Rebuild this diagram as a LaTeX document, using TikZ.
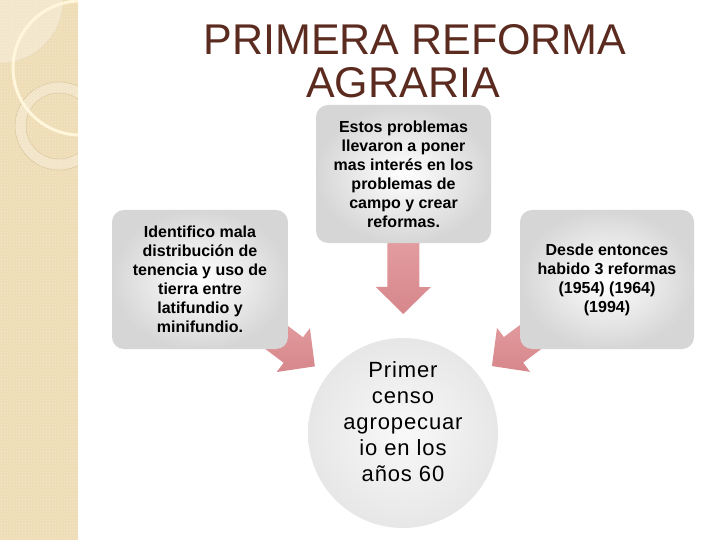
\documentclass[tikz,border=0pt]{standalone}
\usepackage{fontspec}
\setmainfont{Liberation Sans}
\newfontfamily\spacedfont[LetterSpace=4]{Liberation Sans}
\usetikzlibrary{calc,patterns}

\definecolor{titlebrown}{HTML}{5C2B20}
\definecolor{stripbeige}{HTML}{EEDCB5}
\definecolor{stripdot}{HTML}{F6EAD0}
\definecolor{ringtan}{HTML}{D6C298}
\definecolor{ringcream}{HTML}{FFF6DC}
\definecolor{arrowtop}{HTML}{EFB0B3}
\definecolor{arrowbot}{HTML}{D6878B}

\pgfdeclarelayer{back}
\pgfdeclarelayer{arrows}
\pgfsetlayers{back,arrows,main}

\tikzset{
  titletext/.style={anchor=base, text=titlebrown, font=\fontsize{43}{43}\selectfont},
  infobox/.style={rounded corners=12pt, inner sep=0pt, align=center,
    inner color=white, outer color=gray!32,
    font=\fontsize{16}{19}\selectfont\bfseries},
  bubble/.style={circle, minimum size=190pt, inner sep=0pt,
    inner color=gray!5, outer color=gray!19},
  bubbletext/.style={align=center, font=\spacedfont\fontsize{22}{26}\selectfont},
  blockarrow/.style={top color=arrowtop, bottom color=arrowbot},
}

\begin{document}
\begin{tikzpicture}[x=1pt, y=-1pt]
  \useasboundingbox (0,0) rectangle (720,540);

  % Left strip
  \begin{pgfonlayer}{back}
    \fill[white] (0,0) rectangle (720,540);
    \fill[stripbeige] (0,0) rectangle (78,540);
    \fill[pattern=crosshatch dots, pattern color=stripdot] (0,0) rectangle (78,540);
    \begin{scope}
      \clip (0,0) rectangle (78,540);
      \fill[white, opacity=0.3] (0,0) circle (63);
      \draw[ringtan!60, thin] (0,0) circle (63);
      \fill[white, opacity=0.25, even odd rule] (59,126) circle (44) (59,126) circle (33);
      \draw[ringtan] (59,126) circle (44) (59,126) circle (33);
      \draw[ringcream, line width=3pt] (80,68) circle (67);
    \end{scope}
  \end{pgfonlayer}

  \node[titletext] (title1) at (415,55) {PRIMERA REFORMA};
  \node[titletext] (title2) at (403,98) {AGRARIA};

  \node[infobox, minimum width=176pt, minimum height=139pt] (tenure) at (200,279.5)
    {Identifico mala\\distribución de\\tenencia y uso de\\tierra entre\\latifundio y\\minifundio.};
  \node[infobox, minimum width=175pt, minimum height=138pt] (problems) at (403.5,174)
    {Estos problemas\\llevaron a poner\\mas interés en los\\problemas de\\campo y crear\\reformas.};
  \node[infobox, minimum width=174pt, minimum height=139pt] (reforms) at (607,279.5)
    {Desde entonces\\habido 3 reformas\\(1954) (1964)\\(1994)};
  \node[bubble, label={[bubbletext, yshift=11pt]center:{Primer\\censo\\agropecuar\\io en los\\años 60}}]
    (census) at (403,433) {};

  % Block arrows towards the census
  \coordinate (tenuretip) at ($(tenure.center)!144pt!(census.center)$);
  \coordinate (tenurehead) at ($(tenuretip)!27pt!(tenure.center)$);
  \coordinate (problemstip) at ($(problems.center)!140pt!(census.center)$);
  \coordinate (problemshead) at ($(problemstip)!27pt!(problems.center)$);
  \coordinate (reformstip) at ($(reforms.center)!144pt!(census.center)$);
  \coordinate (reformshead) at ($(reformstip)!27pt!(reforms.center)$);

  \begin{pgfonlayer}{arrows}
    \shade[blockarrow] ($(tenure.center)!16pt!90:(tenuretip)$) -- ($(tenurehead)!16pt!90:(tenuretip)$)
      -- ($(tenurehead)!27.5pt!90:(tenuretip)$) -- (tenuretip) -- ($(tenurehead)!27.5pt!-90:(tenuretip)$)
      -- ($(tenurehead)!16pt!-90:(tenuretip)$) -- ($(tenure.center)!16pt!-90:(tenuretip)$) -- cycle;
    \shade[blockarrow] ($(problems.center)!16pt!90:(problemstip)$) -- ($(problemshead)!16pt!90:(problemstip)$)
      -- ($(problemshead)!27.5pt!90:(problemstip)$) -- (problemstip) -- ($(problemshead)!27.5pt!-90:(problemstip)$)
      -- ($(problemshead)!16pt!-90:(problemstip)$) -- ($(problems.center)!16pt!-90:(problemstip)$) -- cycle;
    \shade[blockarrow] ($(reforms.center)!16pt!90:(reformstip)$) -- ($(reformshead)!16pt!90:(reformstip)$)
      -- ($(reformshead)!27.5pt!90:(reformstip)$) -- (reformstip) -- ($(reformshead)!27.5pt!-90:(reformstip)$)
      -- ($(reformshead)!16pt!-90:(reformstip)$) -- ($(reforms.center)!16pt!-90:(reformstip)$) -- cycle;
  \end{pgfonlayer}
\end{tikzpicture}
\end{document}
